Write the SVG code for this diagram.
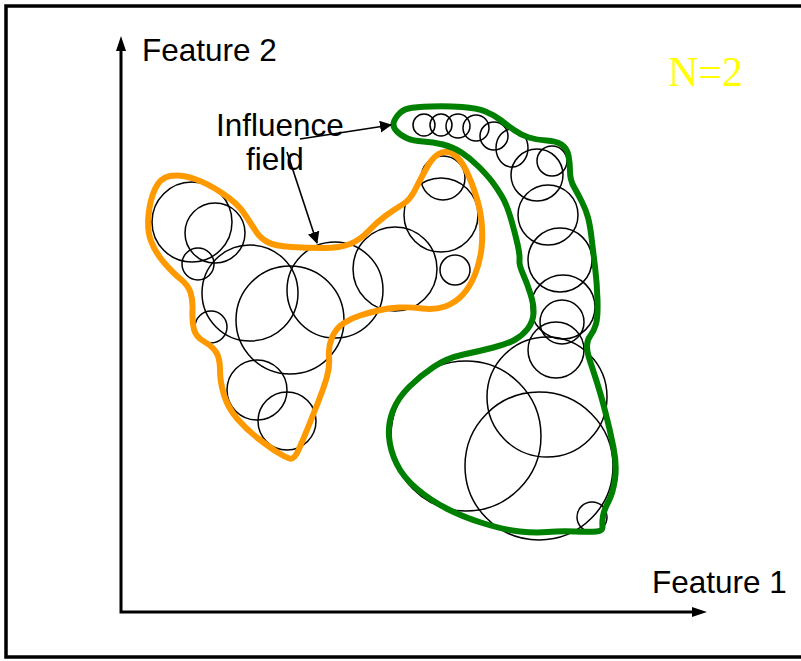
<svg xmlns="http://www.w3.org/2000/svg" width="801" height="661" viewBox="0 0 801 661">
  <style>
    .lbl { font-family: "Liberation Sans", Arial, sans-serif; font-size: 31.5px; fill: #000; }
    .nlbl { font-family: "Liberation Serif", "Times New Roman", serif; font-size: 42px; fill: #FFFF00; }
    .cell { fill: none; stroke: #000; stroke-width: 1.5; }
    .axis { fill: none; stroke: #000; stroke-width: 3; }
    .lead { fill: none; stroke: #000; stroke-width: 1.6; }
    .field { fill: none; stroke-width: 6; stroke-linejoin: round; }
  </style>
  <defs>
    <marker id="head" viewBox="0 0 12 12" refX="11" refY="6" markerWidth="12" markerHeight="12" markerUnits="userSpaceOnUse" orient="auto">
      <path d="M0,0 L12,6 L0,12 Z" fill="#000"/>
    </marker>
  </defs>

  <rect width="801" height="661" fill="#fff"/>
  <!-- outer frame (right side runs past the page) -->
  <rect x="6" y="6" width="830" height="651" fill="none" stroke="#000" stroke-width="3.5"/>

  <!-- axes -->
  <g id="axes">
    <polyline class="axis" points="121,50 121,612 694,612"/>
    <path d="M121,36 L116,51 L126,51 Z" fill="#000"/>
    <path d="M707,612 L692,607 L692,617 Z" fill="#000"/>
  </g>

  <!-- cluster of cells, left -->
  <g id="cells-left">
    <circle class="cell" cx="192" cy="222" r="40"/>
    <circle class="cell" cx="215" cy="233" r="30"/>
    <circle class="cell" cx="198" cy="264" r="16"/>
    <circle class="cell" cx="211" cy="327" r="16"/>
    <circle class="cell" cx="250" cy="293" r="48"/>
    <circle class="cell" cx="290" cy="320" r="54"/>
    <circle class="cell" cx="335" cy="290" r="48"/>
    <circle class="cell" cx="395" cy="269" r="42"/>
    <circle class="cell" cx="441" cy="215" r="37"/>
    <circle class="cell" cx="443" cy="178" r="22"/>
    <circle class="cell" cx="455" cy="270" r="15"/>
    <circle class="cell" cx="257" cy="390" r="30"/>
    <circle class="cell" cx="287" cy="421" r="29"/>
  </g>

  <!-- cluster of cells, right -->
  <g id="cells-right">
    <circle class="cell" cx="424" cy="125" r="11"/>
    <circle class="cell" cx="441" cy="125" r="11"/>
    <circle class="cell" cx="458" cy="126" r="12"/>
    <circle class="cell" cx="476" cy="128" r="13"/>
    <circle class="cell" cx="494" cy="136" r="14"/>
    <ellipse class="cell" cx="512" cy="148" rx="16" ry="19"/>
    <circle class="cell" cx="552" cy="161" r="15"/>
    <circle class="cell" cx="537" cy="175" r="26"/>
    <circle class="cell" cx="548" cy="215" r="30"/>
    <circle class="cell" cx="560" cy="260" r="32"/>
    <circle class="cell" cx="563" cy="307" r="32"/>
    <circle class="cell" cx="562" cy="322" r="22"/>
    <circle class="cell" cx="556" cy="350" r="28"/>
    <circle class="cell" cx="547" cy="397" r="60"/>
    <circle class="cell" cx="466" cy="436" r="75"/>
    <circle class="cell" cx="539" cy="466" r="74"/>
    <circle class="cell" cx="592" cy="517" r="15"/>
  </g>

  <!-- influence field outlines -->
  <g id="field-orange">
    <path class="field" stroke="#FF9900" d="M 170,176 Q 180,174 193.5,178.5 Q 207,183 222,193 Q 237,203 243.5,212.5 Q 250,222 255,230 Q 260,238 267.5,242 Q 275,246 291,247 Q 307,248 323.5,248 Q 340,248 350,244 Q 360,240 368.5,231 Q 377,222 386,215.5 Q 395,209 402.5,204.5 Q 410,200 415,190 Q 420,180 426,169 Q 432,158 438.5,154 Q 445,150 451.5,153 Q 458,156 463.5,165.5 Q 469,175 474.5,191 Q 480,207 481.5,221 Q 483,235 481.5,248.5 Q 480,262 475,274.5 Q 470,287 462.5,295 Q 455,303 445,306.5 Q 435,310 422.5,308.5 Q 410,307 399,307.5 Q 388,308 378,310.5 Q 368,313 360,315.5 Q 352,318 344,323 Q 336,328 332,337.5 Q 328,347 329,357 Q 330,367 326.5,378.5 Q 323,390 318,402.5 Q 313,415 308,427.5 Q 303,440 298.5,450 Q 294,460 289.5,458.5 Q 285,457 278.5,453 Q 272,449 259.5,439.5 Q 247,430 237.5,419 Q 228,408 224,395 Q 220,382 220,370 Q 220,358 216,352 Q 212,346 204,341.5 Q 196,337 194,329.5 Q 192,322 192.5,311 Q 193,300 190.5,292.5 Q 188,285 180.5,279 Q 173,273 164,262.5 Q 155,252 151,241 Q 147,230 148.5,215 Q 150,200 155,189 Q 160,178 170,176 Z"/>
  </g>
  <g id="field-green">
    <path class="field" stroke="#008000" d="M 398,115 Q 402,110 408.5,108.5 Q 415,107 431,106.5 Q 447,106 462,107 Q 477,108 485.5,111.5 Q 494,115 500.5,120 Q 507,125 514,130 Q 521,135 529,137.5 Q 537,140 546.5,140.5 Q 556,141 561.5,144.5 Q 567,148 568.5,155.5 Q 570,163 570,171.5 Q 570,180 574,187 Q 578,194 582,202 Q 586,210 588,217.5 Q 590,225 591.5,237.5 Q 593,250 595,266.5 Q 597,283 597.5,300 Q 598,317 596,324 Q 594,331 590.5,335.5 Q 587,340 587,346 Q 587,352 590,361 Q 593,370 597,382.5 Q 601,395 605.5,412.5 Q 610,430 613.5,447.5 Q 617,465 615,479 Q 613,493 608.5,501.5 Q 604,510 603,516 Q 602,522 602.5,526.5 Q 603,531 596.5,531.5 Q 590,532 575,531.5 Q 560,531 547.5,532 Q 535,533 520,531.5 Q 505,530 484,523.5 Q 463,517 446.5,508.5 Q 430,500 416.5,488.5 Q 403,477 396.5,463.5 Q 390,450 389,436.5 Q 388,423 393,410.5 Q 398,398 409,387 Q 420,376 433.5,367 Q 447,358 463.5,354.5 Q 480,351 493.5,347.5 Q 507,344 514.5,340 Q 522,336 527.5,329 Q 533,322 533.5,313.5 Q 534,305 530.5,294 Q 527,283 523,274 Q 519,265 519.5,260 Q 520,255 517.5,244 Q 515,233 511,219 Q 507,205 502,196.5 Q 497,188 492,181.5 Q 487,175 478.5,166.5 Q 470,158 461.5,152.5 Q 453,147 443,144.5 Q 433,142 423,141.5 Q 413,141 406.5,138 Q 400,135 396.5,131 Q 393,127 393.5,123.5 Q 394,120 398,115 Z"/>
  </g>

  <!-- label leader arrows -->
  <g id="connectors">
    <line class="lead" x1="300" y1="139" x2="391" y2="125" marker-end="url(#head)"/>
    <line class="lead" x1="287" y1="152" x2="317" y2="243" marker-end="url(#head)"/>
  </g>

  <!-- labels -->
  <g id="labels">
    <text class="lbl" x="142" y="61">Feature 2</text>
    <text class="lbl" x="652" y="593">Feature 1</text>
    <text class="lbl" x="216" y="136">Influence</text>
    <text class="lbl" x="246" y="170">field</text>
    <text class="nlbl" x="668" y="86">N=2</text>
  </g>
</svg>
